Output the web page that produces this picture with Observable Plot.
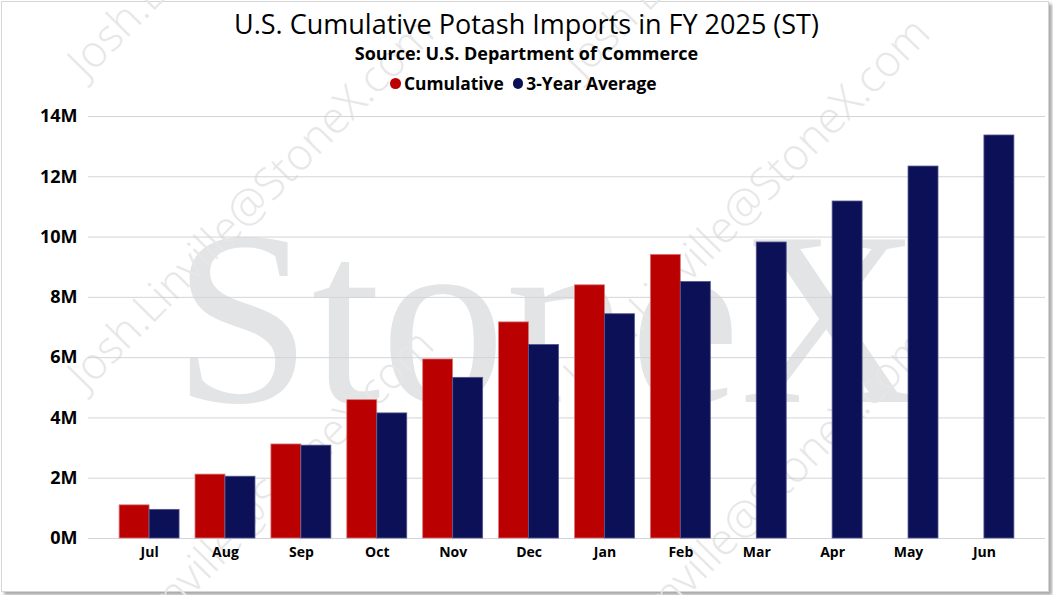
<!DOCTYPE html>
<html>
<head>
<meta charset="utf-8">
<script src="https://cdn.jsdelivr.net/npm/d3@7"></script>
<script src="https://cdn.jsdelivr.net/npm/@observablehq/plot@0.6"></script>
<style>
  body { margin: 0; width: 1053px; height: 595px; overflow: hidden; background: #fff; font-family: "Open Sans", sans-serif; position: relative; }
  #frame { position: absolute; left: 1px; top: 1px; width: 1046px; height: 589px; border: 1px solid #d6d6d6; box-shadow: 3px 3px 3px #a9a9a9; background: #fff; }
  #wm { position: absolute; left: 0; top: 0; }
  .line { position: absolute; left: 0; width: 1053px; text-align: center; color: #000; white-space: nowrap; }
  #title { top: 10px; font-size: 27px; line-height: 27px; font-weight: 400; }
  #subtitle { top: 44px; font-size: 18px; line-height: 18px; font-weight: 700; }
  #legend { top: 75px; font-size: 17.4px; line-height: 17px; font-weight: 700; display: flex; justify-content: center; align-items: center; box-sizing: border-box; padding-right: 6px; }
  #legend .sw { display: inline-block; width: 10.5px; height: 10.5px; border-radius: 50%; margin-right: 3px; }
  #legend .item { display: inline-flex; align-items: center; }
  #legend .item + .item { margin-left: 9px; }
  #chart { position: absolute; left: 0; top: 100px; }
</style>
</head>
<body>
<div id="frame"></div>
<svg id="wm" width="1053" height="595">
  <text x="173" y="402" font-family="Liberation Serif" font-size="249" fill="#e3e4e6">StoneX</text>
  <g font-family="Open Sans" font-size="44" font-weight="300" fill="#e7e7e7">
    <text transform="translate(86,80) rotate(-45.5)">Josh.Linville@StoneX.com</text>
    <text transform="translate(86,392) rotate(-45.5)">Josh.Linville@StoneX.com</text>
    <text transform="translate(86,704) rotate(-45.5)">Josh.Linville@StoneX.com</text>
    <text transform="translate(582,80) rotate(-45.5)">Josh.Linville@StoneX.com</text>
    <text transform="translate(582,392) rotate(-45.5)">Josh.Linville@StoneX.com</text>
    <text transform="translate(582,704) rotate(-45.5)">Josh.Linville@StoneX.com</text>
  </g>
</svg>
<div id="title" class="line">U.S. Cumulative Potash Imports in FY 2025 (ST)</div>
<div id="subtitle" class="line">Source: U.S. Department of Commerce</div>
<div id="legend" class="line"></div>
<div id="chart"></div>
<script>
// Fiscal-year months (July through June)
const months = ["Jul", "Aug", "Sep", "Oct", "Nov", "Dec", "Jan", "Feb", "Mar", "Apr", "May", "Jun"];
// Cumulative imports so far this fiscal year, millions of short tons
const cumulative = [1.10, 2.12, 3.12, 4.59, 5.94, 7.17, 8.40, 9.41];
// Cumulative three-year average, millions of short tons
const threeYearAvg = [0.95, 2.05, 3.08, 4.15, 5.33, 6.42, 7.44, 8.51, 9.82, 11.18, 12.34, 13.37];
// Value axis ticks (millions)
const yTicks = [0, 2, 4, 6, 8, 10, 12, 14];

const seriesNames = ["Cumulative", "3-Year Average"];
const seriesColors = ["#ba0000", "#0c1157"];

const cumRows = cumulative.map((v, i) => ({month: months[i], value: v}));
const avgRows = threeYearAvg.map((v, i) => ({month: months[i], value: v}));

// Legend above the plot
const legend = document.getElementById("legend");
seriesNames.forEach((name, i) => {
  const item = document.createElement("span");
  item.className = "item";
  const sw = document.createElement("span");
  sw.className = "sw";
  sw.style.background = seriesColors[i];
  item.appendChild(sw);
  item.appendChild(document.createTextNode(name));
  legend.appendChild(item);
});

const chart = Plot.plot({
  width: 1053,
  height: 495,
  marginLeft: 88,
  marginRight: 8,
  marginTop: 16,
  marginBottom: 57,
  style: {background: "transparent", fontFamily: "Open Sans", color: "#000", overflow: "visible"},
  x: {domain: months, paddingInner: 0.21, paddingOuter: 0.41, round: false, label: null},
  y: {domain: [0, 14], label: null},
  marks: [
    Plot.gridY(yTicks, {stroke: "#d2d4d9", strokeOpacity: 1}),
    // Each month's band is split: left half current year, right half 3-year average
    Plot.barY(cumRows, {x: "month", y: "value", fill: seriesColors[0], stroke: "#d9797b", strokeWidth: 0.8, insetRight: 30}),
    Plot.barY(avgRows, {x: "month", y: "value", fill: seriesColors[1], stroke: "#52568f", strokeWidth: 0.8, insetLeft: 30}),
    Plot.axisY(yTicks, {tickSize: 0, tickPadding: 11, tickFormat: d => d + "M", fontSize: 18, fontWeight: "bold", label: null}),
    Plot.axisX({tickSize: 0, tickPadding: 9, fontSize: 14, fontWeight: "bold", label: null})
  ]
});
document.getElementById("chart").appendChild(chart);
</script>
</body>
</html>
